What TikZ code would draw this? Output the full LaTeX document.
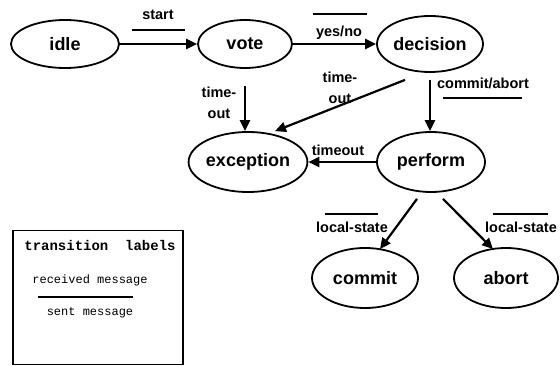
\documentclass[tikz,border=0pt]{standalone}
\usepackage{fontspec}
\setmainfont{Liberation Sans}
\newfontfamily\typewriter{Liberation Mono}
\usetikzlibrary{shapes.geometric,arrows.meta}

\tikzset{
  state/.style={ellipse, draw, line width=1.8pt, inner sep=0pt,
    minimum width=106, minimum height=56,
    font=\fontsize{18}{18}\selectfont\bfseries},
  trans/.style={line width=2.2pt, -{Triangle[length=11pt,width=10pt]}},
  lbl/.style={font=\fontsize{14.5}{21}\selectfont\bfseries, inner sep=0pt, align=center},
  bar/.style={line width=1.5pt},
  legendtxt/.style={font=\typewriter\fontsize{12}{12}\selectfont, inner sep=0pt},
}

\begin{document}
\begin{tikzpicture}[x=1pt,y=-1pt]
    \useasboundingbox (0,0) rectangle (560,366);

    % states
    \node[state, minimum width=108, minimum height=48] (idle) at (65,44) {idle};
    \node[state, minimum width=94, minimum height=48] (vote) at (245,44) {vote};
    \node[state] (decision) at (430,44) {decision};
    \node[state, minimum height=60] (exception) at (248,162) {exception};
    \node[state, minimum width=108, minimum height=60] (perform) at (431,162) {perform};
    \node[state, minimum height=60] (commit) at (365,278) {commit};
    \node[state, minimum width=104, minimum height=60] (abort) at (506,278) {abort};

    % transitions
    \draw[trans] (idle.east) -- (vote.west);
    \draw[trans] (vote.east) -- (decision.west);
    \draw[trans, shorten <=17pt] (vote.south) -- (vote.south |- exception.north);
    \draw[trans] ([shift={(-25,7)}]decision.south) -- ([shift={(27,0)}]exception.north);
    \draw[trans, shorten <=7pt] (decision.south) -- (decision.south |- perform.north);
    \draw[trans] (perform.west) -- (exception.east);
    \draw[trans] ([shift={(-14,6)}]perform.south) -- ([shift={(15,2)}]commit.north);
    \draw[trans] ([shift={(12,6)}]perform.south) -- ([shift={(-13,2)}]abort.north);

    % labels: received above the bar, sent below it
    \node[lbl] (l-start) at (158,15) {start};
    \draw[bar] (132,30) -- (185,30);
    \node[lbl] (l-yesno) at (339,33) {yes/no};
    \draw[bar] (313,14) -- (367,14);
    \node[lbl] (l-vtime) at (219,103) {time-\\out};
    \node[lbl] (l-dtime) at (340,88) {time-\\out};
    \node[lbl] (l-commitabort) at (483,83) {commit/abort};
    \draw[bar] (443,98) -- (522,98);
    \node[lbl] (l-timeout) at (338,150) {timeout};
    \node[lbl] (l-localc) at (352,227) {local-state};
    \draw[bar] (325,214) -- (378,214);
    \node[lbl] (l-locala) at (521,227) {local-state};
    \draw[bar] (493,214) -- (548,214);

    % legend
    \node[draw, line width=1.4pt, minimum width=170, minimum height=134, inner sep=0pt] (legend) at (98,297.5) {};
    \node[font=\typewriter\bfseries\fontsize{14}{14}\selectfont, inner sep=0pt] (legend-title) at (100,245) {transition\ \ labels};
    \node[legendtxt] (recv) at (90,280) {received message};
    \draw[line width=2pt] (38,297) -- (133,297);
    \node[legendtxt] (sent) at (90,313) {sent message};
\end{tikzpicture}
\end{document}
